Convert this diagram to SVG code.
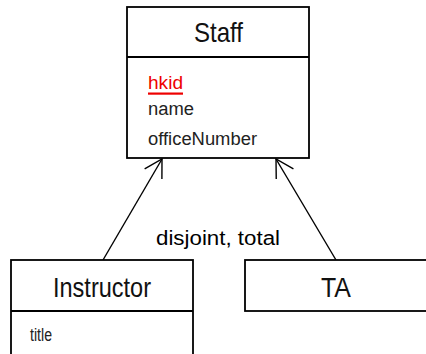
<svg xmlns="http://www.w3.org/2000/svg" width="426" height="354" viewBox="0 0 426 354">
  <defs>
    <style>
      .box { fill: #ffffff; stroke: #000000; stroke-width: 1.8; }
      .sep { stroke: #000000; stroke-width: 1.8; }
      .title { font-family: "Liberation Sans", Arial, sans-serif; font-size: 28px; fill: #111111; }
      .attr { font-family: "Liberation Sans", Arial, sans-serif; font-size: 18px; fill: #222222; }
      .key { fill: #ee0000; }
      .label { font-family: "Liberation Sans", Arial, sans-serif; font-size: 20px; fill: #000000; }
      .edge { fill: none; stroke: #000000; stroke-width: 1.4; }
    </style>
    <!-- open arrowhead, two 20px wings at 30 degrees -->
    <marker id="open-arrow" markerUnits="userSpaceOnUse" orient="auto" refX="0" refY="0"
            markerWidth="40" markerHeight="40" viewBox="-20 -20 40 40" overflow="visible">
      <path d="M-17.3,-10 L0,0 L-17.3,10" fill="none" stroke="#000000" stroke-width="1.4"/>
    </marker>
  </defs>

  <rect width="426" height="354" fill="#ffffff"/>

  <!-- generalization connectors -->
  <g id="connectors">
    <line class="edge" x1="103" y1="260" x2="162" y2="159" marker-end="url(#open-arrow)"/>
    <line class="edge" x1="336" y1="260" x2="276" y2="159" marker-end="url(#open-arrow)"/>
    <text class="label" x="156" y="245" textLength="124" lengthAdjust="spacingAndGlyphs">disjoint, total</text>
  </g>

  <!-- superclass -->
  <g id="staff">
    <rect class="box" x="127" y="7" width="182" height="151"/>
    <line class="sep" x1="127" y1="57" x2="309" y2="57"/>
    <text class="title" x="194" y="42" textLength="49" lengthAdjust="spacingAndGlyphs">Staff</text>
    <text class="attr key" x="148" y="89" textLength="35" lengthAdjust="spacingAndGlyphs">hkid</text>
    <rect x="148" y="92.5" width="35" height="2.2" fill="#ee0000"/>
    <text class="attr" x="148" y="115" textLength="46" lengthAdjust="spacingAndGlyphs">name</text>
    <text class="attr" x="148" y="145" textLength="109" lengthAdjust="spacingAndGlyphs">officeNumber</text>
  </g>

  <!-- subclasses -->
  <g id="instructor">
    <rect class="box" x="11" y="260" width="182" height="110"/>
    <line class="sep" x1="11" y1="311" x2="193" y2="311"/>
    <text class="title" x="53" y="297" textLength="98" lengthAdjust="spacingAndGlyphs">Instructor</text>
    <text class="attr" x="30" y="341" textLength="22" lengthAdjust="spacingAndGlyphs">title</text>
  </g>

  <g id="ta">
    <rect class="box" x="245" y="260" width="200" height="51"/>
    <text class="title" x="321" y="297" textLength="30" lengthAdjust="spacingAndGlyphs">TA</text>
  </g>
</svg>
